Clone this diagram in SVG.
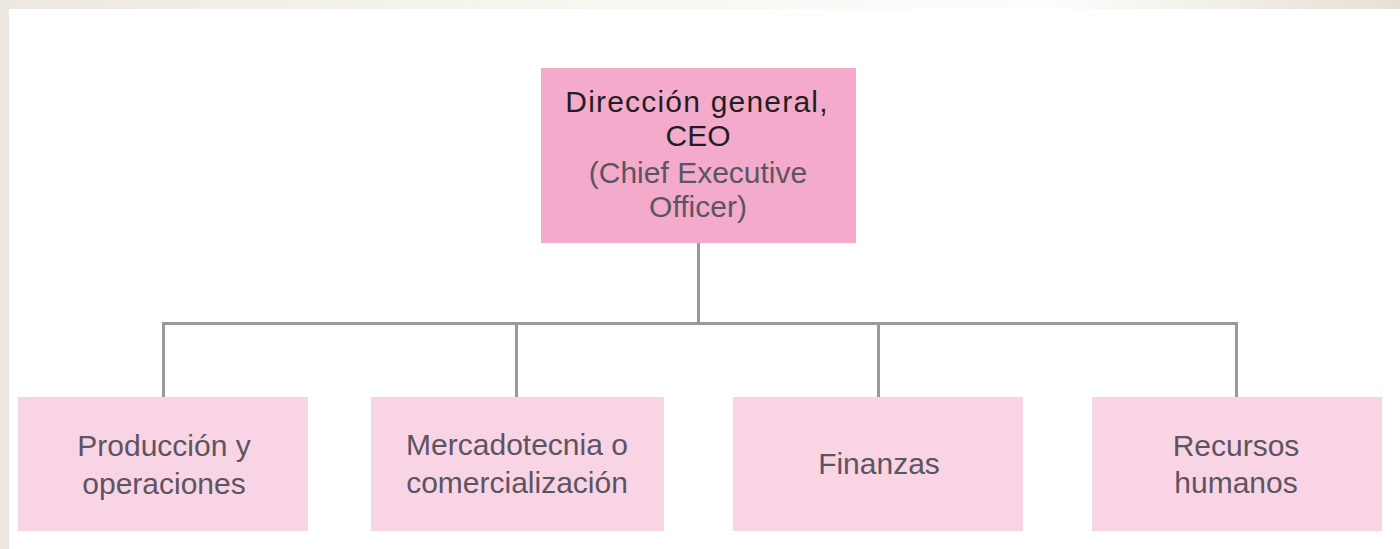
<svg xmlns="http://www.w3.org/2000/svg" width="1400" height="549" viewBox="0 0 1400 549">
  <defs>
    <linearGradient id="band" x1="0" y1="0" x2="1" y2="0">
      <stop offset="0" stop-color="#ede9e0"/>
      <stop offset="0.45" stop-color="#f8f7f3"/>
      <stop offset="0.75" stop-color="#fdfdfc"/>
      <stop offset="1" stop-color="#e6e0d4"/>
    </linearGradient>
    <style>
      .top { fill: #f4aacb; }
      .sub { fill: #f9d4e5; }
      .conn { stroke: #999999; stroke-width: 3; fill: none; }
      text { font-family: "Liberation Sans", Arial, sans-serif; font-size: 30px; text-anchor: middle; }
      .dark { fill: #1f1f23; }
      .light { fill: #5c5561; }
    </style>
  </defs>
  <rect x="0" y="0" width="1400" height="549" fill="#ffffff"/>
  <rect x="0" y="0" width="1400" height="9" fill="url(#band)"/>
  <rect x="0" y="0" width="9" height="549" fill="#ece8df"/>

  <g id="connectors">
    <path class="conn" d="M698.5 243 V323.5"/>
    <path class="conn" d="M163.5 397 V323.5 H1236.5 V397"/>
    <path class="conn" d="M516.5 323.5 V397"/>
    <path class="conn" d="M878.5 323.5 V397"/>
  </g>

  <g id="ceo">
    <rect class="top" x="541" y="68" width="315" height="175"/>
    <text class="dark" x="697" y="112" letter-spacing="1.2">Dirección general,</text>
    <text class="dark" x="698" y="146">CEO</text>
    <text class="light" x="698" y="183">(Chief Executive</text>
    <text class="light" x="698" y="217">Officer)</text>
  </g>

  <g id="produccion">
    <rect class="sub" x="18" y="397" width="290" height="134"/>
    <text class="light" x="164" y="456">Producción y</text>
    <text class="light" x="164" y="494">operaciones</text>
  </g>

  <g id="mercadotecnia">
    <rect class="sub" x="371" y="397" width="293" height="134"/>
    <text class="light" x="517" y="455">Mercadotecnia o</text>
    <text class="light" x="517" y="493">comercialización</text>
  </g>

  <g id="finanzas">
    <rect class="sub" x="733" y="397" width="290" height="134"/>
    <text class="light" x="879" y="474">Finanzas</text>
  </g>

  <g id="recursos">
    <rect class="sub" x="1092" y="397" width="290" height="134"/>
    <text class="light" x="1236" y="456">Recursos</text>
    <text class="light" x="1236" y="493">humanos</text>
  </g>
</svg>
